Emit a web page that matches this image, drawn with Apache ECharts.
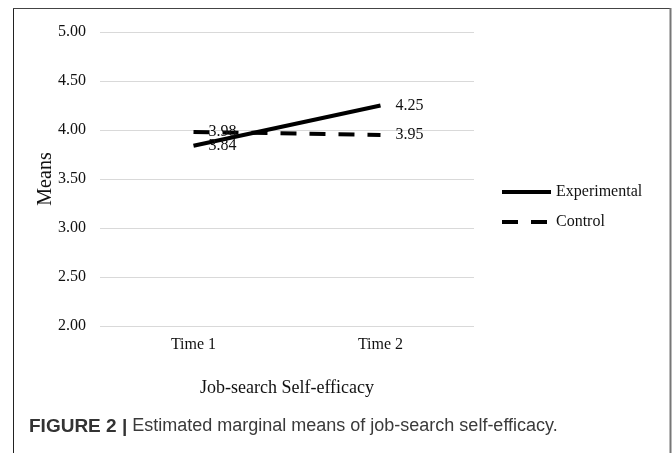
<!DOCTYPE html>
<html>
<head>
<meta charset="utf-8">
<script src="https://cdn.jsdelivr.net/npm/echarts@6/dist/echarts.min.js"></script>
<style>
  html, body { margin: 0; padding: 0; background: #fff; }
  #chart { width: 672px; height: 453px; }
</style>
</head>
<body>
<div id="chart"></div>
<script>
// data
let categories = ['Time 1', 'Time 2'];
let experimental = [3.84, 4.25];
let control = [3.98, 3.95];
let yTicks = [2, 2.5, 3, 3.5, 4, 4.5, 5];

let serif = '"Liberation Serif", "Times New Roman", serif';
let chart = echarts.init(document.querySelector('#chart'));

let lineSerie = function (name, values, dashed) {
  return {
    name: name,
    type: 'line',
    data: values,
    symbol: 'circle',
    symbolSize: 0,
    itemStyle: { color: '#000' },
    lineStyle: {
      color: '#000',
      width: 4,
      type: dashed ? [16, 13] : 'solid'
    },
    label: {
      show: true,
      position: 'right',
      distance: 15,
      color: '#111',
      fontFamily: serif,
      fontSize: 16,
      formatter: function (p) { return p.value.toFixed(2); }
    },
    animation: false
  };
};

// legend icons: a solid bar and two dashes
let solidIcon = 'path://M0,0H49V4H0Z';
let dashIcon = 'path://M0,0H16V4H0ZM29,0H45V4H29ZM49,2H49';

chart.setOption({
  animation: false,
  grid: { left: 100, right: 198, top: 32, bottom: 127 },
  legend: {
    orient: 'vertical',
    left: 502,
    top: 184,
    padding: 0,
    itemWidth: 49,
    itemHeight: 4,
    itemGap: 14,
    textStyle: { fontFamily: serif, fontSize: 16, color: '#111' },
    data: [
      { name: 'Experimental', icon: solidIcon },
      { name: 'Control', icon: dashIcon }
    ]
  },
  xAxis: {
    type: 'category',
    data: categories,
    axisLine: { show: false },
    axisTick: { show: false },
    axisLabel: { fontFamily: serif, fontSize: 16, color: '#111', margin: 11 },
    name: 'Job-search Self-efficacy',
    nameLocation: 'middle',
    nameGap: 53,
    nameTextStyle: { fontFamily: serif, fontSize: 18, color: '#111' }
  },
  yAxis: {
    type: 'value',
    min: yTicks[0],
    max: yTicks[yTicks.length - 1],
    interval: 0.5,
    axisLine: { show: false },
    axisTick: { show: false },
    axisLabel: {
      fontFamily: serif, fontSize: 16, color: '#111', margin: 14,
      formatter: function (v) { return v.toFixed(2); }
    },
    splitLine: { lineStyle: { color: '#d9d9d9', width: 1 } },
    name: 'Means',
    nameLocation: 'middle',
    nameGap: 44,
    nameMoveOverlap: false,
    nameTextStyle: { fontFamily: serif, fontSize: 20, color: '#111' }
  },
  series: [
    lineSerie('Experimental', experimental, false),
    lineSerie('Control', control, true)
  ],
  graphic: [
    { type: 'line', shape: { x1: 13.5, y1: 8, x2: 13.5, y2: 453 }, style: { stroke: '#222', lineWidth: 1 } },
    { type: 'line', shape: { x1: 13, y1: 8.5, x2: 671, y2: 8.5 }, style: { stroke: '#444', lineWidth: 1 } },
    { type: 'line', shape: { x1: 670.5, y1: 8, x2: 670.5, y2: 453 }, style: { stroke: '#777', lineWidth: 2 } },
    {
      type: 'text',
      left: 29,
      top: 417,
      style: {
        text: '{b|FIGURE 2 |} Estimated marginal means of job-search self-efficacy.',
        fontFamily: '"Liberation Sans", Arial, sans-serif',
        fontSize: 18,
        fill: '#3a3a3a',
        rich: {
          b: {
            fontFamily: '"Liberation Sans", Arial, sans-serif',
            fontWeight: 'bold',
            fontSize: 19,
            fill: '#333'
          }
        }
      }
    }
  ]
});
</script>
</body>
</html>
